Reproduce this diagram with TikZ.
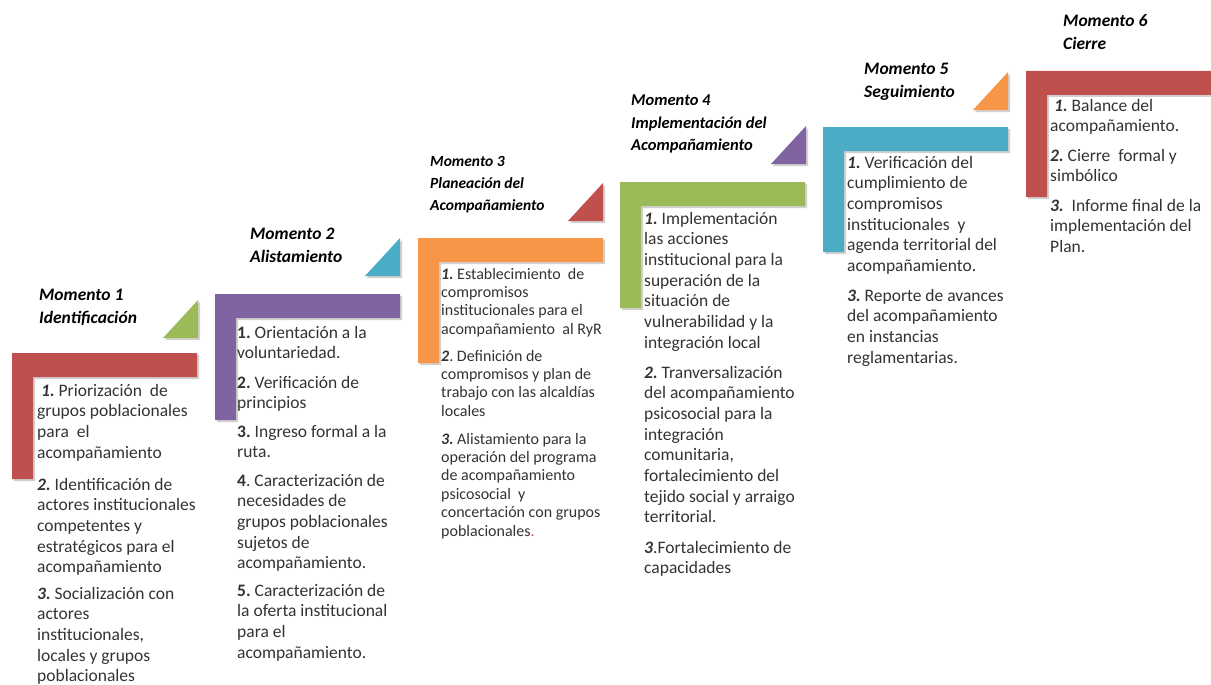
\documentclass[tikz,border=0pt]{standalone}
\usepackage{fontspec}
\setmainfont{Carlito}
\definecolor{cred}{HTML}{C0504D}
\definecolor{cpurple}{HTML}{8064A2}
\definecolor{cblue}{HTML}{4BACC6}
\definecolor{corange}{HTML}{F79646}
\definecolor{cgreen}{HTML}{9BBB59}
\definecolor{txt}{HTML}{333333}
\newcommand{\Lshp}[4]{% x0, y0 (top), yb (bottom), colour
  \fill[black,opacity=0.18] ({#1+2},{#2+2}) -- ({#1+187},{#2+2}) -- ({#1+187},{#2+26}) -- ({#1+23},{#2+26}) -- ({#1+23},{#3+2}) -- ({#1+2},{#3+2}) -- cycle;
  \fill[#4] (#1,#2) -- ({#1+185},#2) -- ({#1+185},{#2+24}) -- ({#1+21},{#2+24}) -- ({#1+21},#3) -- (#1,#3) -- cycle;}
\newcommand{\Tri}[3]{% right x, bottom y, colour
  \fill[black,opacity=0.18] ({#1-33},{#2+2}) -- ({#1+2},{#2+2}) -- ({#1+2},{#2-36}) -- cycle;
  \fill[#3] ({#1-35},#2) -- (#1,#2) -- (#1,{#2-38}) -- cycle;}
\newcommand{\nb}[1]{\textbf{\textit{#1}}}
\tikzset{
  item/.style={anchor=base west, inner sep=0pt, text width=200pt, align=flush left, text=txt,
    font=\fontsize{17.5}{20.7}\selectfont\frenchspacing},
  itemsm/.style={item, font=\fontsize{16}{18.4}\selectfont\frenchspacing},
  title/.style={anchor=base west, inner sep=0pt, text width=200pt, align=flush left, text=black,
    font=\fontsize{17.5}{23}\selectfont\bfseries\itshape},
}
\begin{document}
\begin{tikzpicture}[x=1pt,y=-1pt]
\useasboundingbox[fill=white] (0,0) rectangle (1211,685);
% shapes
\Lshp{12}{353}{479}{cred}
\Lshp{215}{294}{420}{cpurple}
\Lshp{418}{238}{363}{corange}
\Lshp{620}{182}{308}{cgreen}
\Lshp{823}{127}{252}{cblue}
\Lshp{1026}{71}{197}{cred}
\Tri{198}{338}{cgreen}
\Tri{400}{276}{cblue}
\Tri{603}{221}{cred}
\Tri{806}{164}{cpurple}
\Tri{1008}{110}{corange}
% titles
\node[title] (t1) at (39,300) {Momento 1\\Identificación};
\node[title] (t2) at (250,239) {Momento 2\\Alistamiento};
\node[title, font=\fontsize{15.5}{22}\selectfont\bfseries\itshape] (t3) at (430,166) {Momento 3\\Planeación del\\Acompañamiento};
\node[title, font=\fontsize{16.5}{22.5}\selectfont\bfseries\itshape] (t4) at (631,106) {Momento 4\\Implementación del\\Acompañamiento};
\node[title] (t5) at (864,75) {Momento 5\\Seguimiento};
\node[title] (t6) at (1063,27) {Momento 6\\Cierre};
% column 1
\node[item] (c1a) at (37,396) {\hspace{4pt}\nb{1.} Priorización\ \ de\\grupos poblacionales\\para\ \ el\\acompañamiento};
\node[item] (c1b) at (37,490) {\nb{2.} Identificación de\\actores institucionales\\competentes y\\estratégicos para el\\acompañamiento};
\node[item] (c1c) at (37,599) {\nb{3.} Socialización con\\actores\\institucionales,\\locales y grupos\\poblacionales};
% column 2
\node[item] (c2a) at (237,338) {\textbf{1.} Orientación a la\\voluntariedad.};
\node[item] (c2b) at (237,388) {\textbf{2.} Verificación de\\principios};
\node[item] (c2c) at (237,437) {\textbf{3.} Ingreso formal a la\\ruta.};
\node[item] (c2d) at (237,486) {\textbf{4}. Caracterización de\\necesidades de\\grupos poblacionales\\sujetos de\\acompañamiento.};
\node[item] (c2e) at (237,596) {\textbf{5.} Caracterización de\\la oferta institucional\\para el\\acompañamiento.};
% column 3
\node[itemsm] (c3a) at (441,279) {\nb{1.} Establecimiento\ \ de\\compromisos\\institucionales para el\\acompañamiento\ \ al RyR};
\node[itemsm] (c3b) at (441,361) {\nb{2}. Definición de\\compromisos y plan de\\trabajo con las alcaldías\\locales};
\node[itemsm] (c3c) at (441,444) {\nb{3.} Alistamiento para la\\operación del programa\\de acompañamiento\\psicosocial\ \ y\\concertación con grupos\\poblacionales{\color{cred}.}};
% column 4
\node[item] (c4a) at (644,224) {\nb{1.} Implementación\\las acciones\\institucional para la\\superación de la\\situación de\\vulnerabilidad y la\\integración local};
\node[item] (c4b) at (644,378) {\nb{2.} Tranversalización\\del acompañamiento\\psicosocial para la\\integración\\comunitaria,\\fortalecimiento del\\tejido social y arraigo\\territorial.};
\node[item] (c4c) at (644,553) {\nb{3}.Fortalecimiento de\\capacidades};
% column 5
\node[item] (c5a) at (847,168) {\nb{1.} Verificación del\\cumplimiento de\\compromisos\\institucionales\ \ y\\agenda territorial del\\acompañamiento.};
\node[item] (c5b) at (847,301) {\nb{3.} Reporte de avances\\del acompañamiento\\en instancias\\reglamentarias.};
% column 6
\node[item] (c6a) at (1050,111) {\hspace{4pt}\nb{1.} Balance del\\acompañamiento.};
\node[item] (c6b) at (1050,161) {\nb{2.} Cierre\ \ formal y\\simbólico};
\node[item] (c6c) at (1050,211) {\nb{3.}\ \ Informe final de la\\implementación del\\Plan.};
\end{tikzpicture}
\end{document}
